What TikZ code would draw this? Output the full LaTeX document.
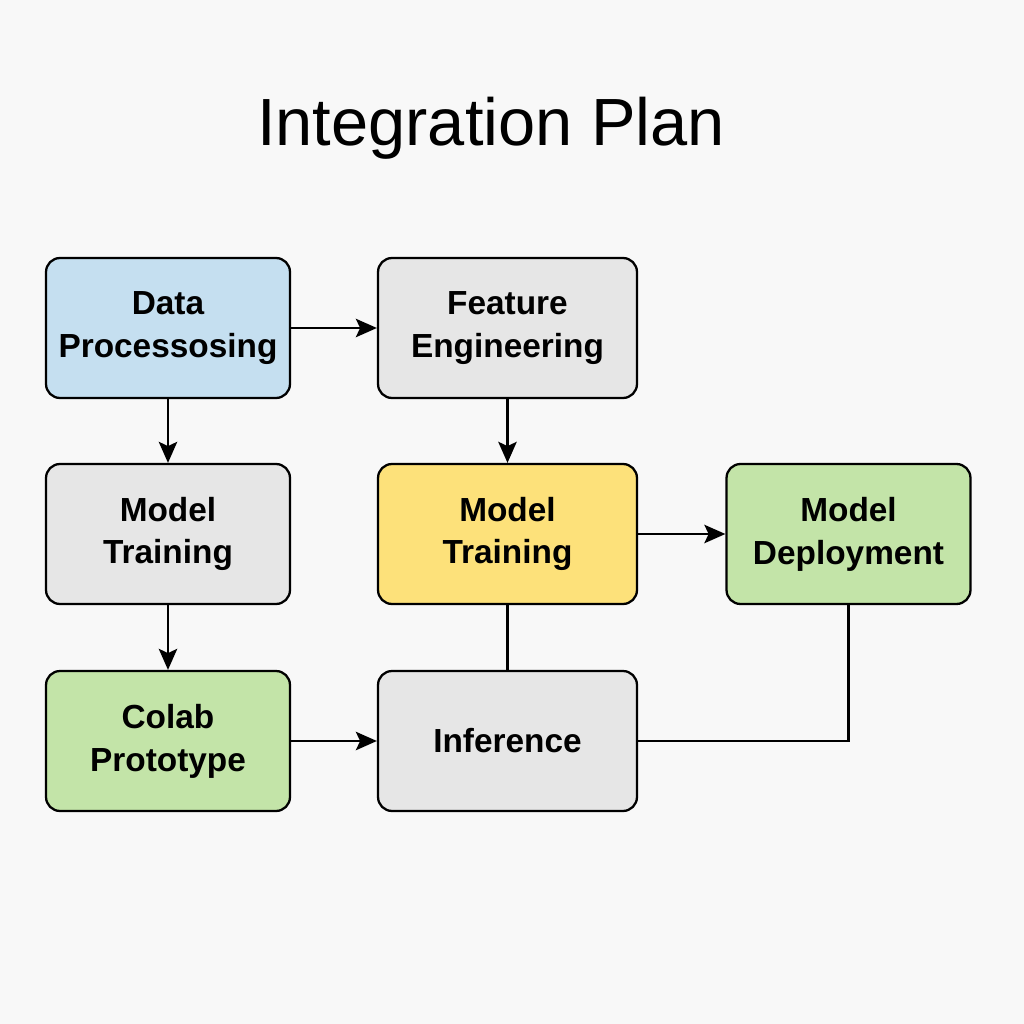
\documentclass[tikz,border=0pt]{standalone}
\usepackage{fontspec}
\setmainfont{Liberation Sans}
\usetikzlibrary{arrows.meta}
\definecolor{pagebg}{HTML}{F8F8F8}
\definecolor{procblue}{HTML}{C5DFF0}
\definecolor{stepgray}{HTML}{E6E6E6}
\definecolor{trainyellow}{HTML}{FDE17A}
\definecolor{deploygreen}{HTML}{C3E4A8}
\tikzset{
    planbox/.style={draw=black, line width=1.3pt, rounded corners=0.28cm, minimum height=2.8cm, align=center, font=\bfseries\fontsize{19}{24.4}\selectfont},
    narrow/.style={minimum width=4.88cm},
    wide/.style={minimum width=5.18cm},
    flow/.style={line width=1.4pt, -{Stealth[length=12pt,width=10.5pt,inset=2.5pt]}},
    link/.style={line width=1.4pt}
}
\begin{document}
\begin{tikzpicture}[x=0.02cm, y=-0.02cm]
    \fill[pagebg] (0,0) rectangle (1024,1024);
    \useasboundingbox (0,0) rectangle (1024,1024);
    \node[anchor=base, font=\fontsize{38}{45}\selectfont] (title) at (491,145) {Integration Plan};
    \node[planbox, narrow, fill=procblue] (data) at (168,328) {Data\\Processosing};
    \node[planbox, wide, fill=stepgray] (feat) at (507.5,328) {Feature\\Engineering};
    \node[planbox, narrow, fill=stepgray] (trainL) at (168,534) {Model\\Training};
    \node[planbox, wide, fill=trainyellow] (trainM) at (507.5,534) {Model\\Training};
    \node[planbox, narrow, fill=deploygreen] (deploy) at (848.5,534) {Model\\Deployment};
    \node[planbox, narrow, fill=deploygreen] (colab) at (168,741) {Colab\\Prototype};
    \node[planbox, wide, fill=stepgray] (infer) at (507.5,741) {Inference};
    \draw[flow] (data) -- (feat);
    \draw[flow] (data) -- (trainL);
    \draw[flow] (feat) -- (trainM);
    \draw[flow] (trainL) -- (colab);
    \draw[flow] (colab) -- (infer);
    \draw[flow] (trainM) -- (deploy);
    \draw[link] (trainM) -- (infer);
    \draw[link] (deploy.south) |- (infer.east);
\end{tikzpicture}
\end{document}
